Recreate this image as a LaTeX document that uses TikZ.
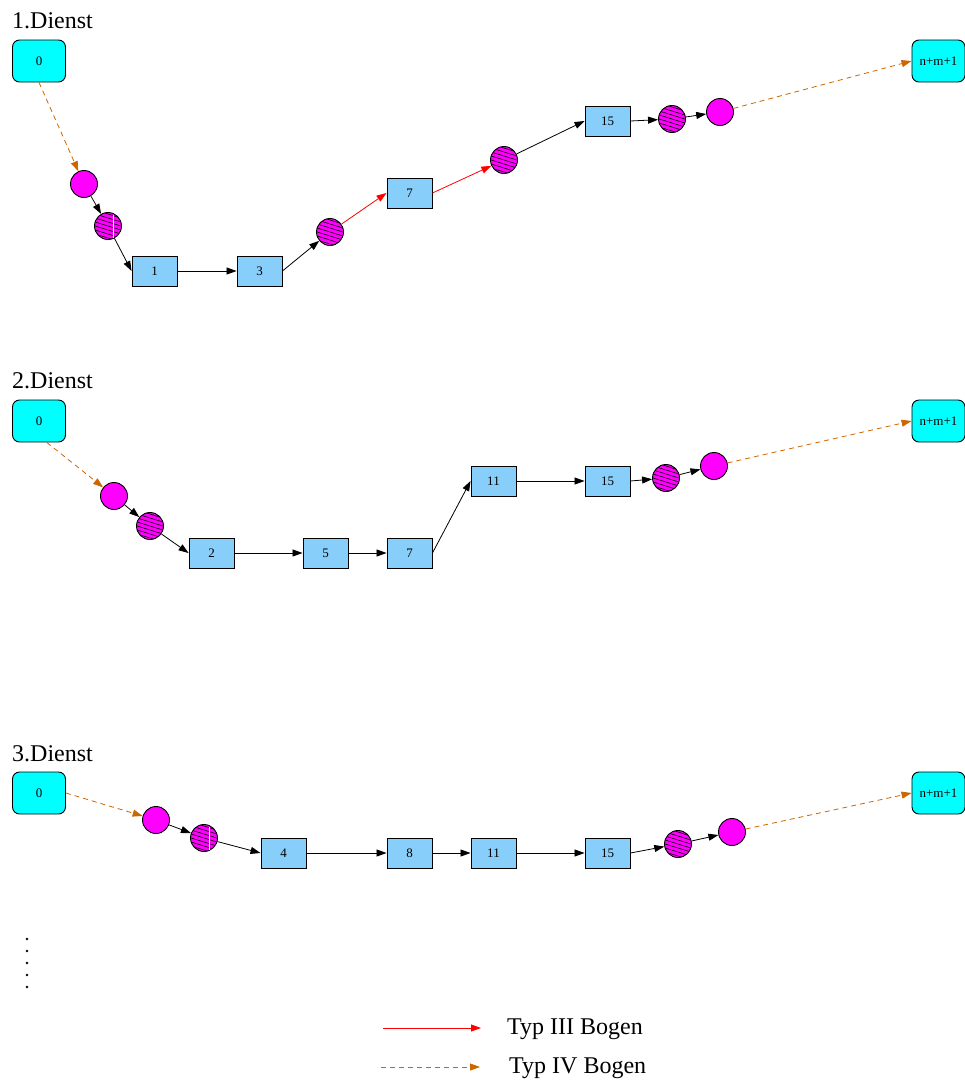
\documentclass[tikz,border=0pt]{standalone}
\usepackage{fontspec}
\setmainfont{Liberation Serif}
\usetikzlibrary{arrows.meta,calc}
\definecolor{boxblue}{RGB}{135,206,250}
\definecolor{termcyan}{RGB}{0,255,255}
\definecolor{nodemag}{RGB}{255,0,255}
\definecolor{bogenorange}{RGB}{204,102,0}
\tikzset{
  jobbox/.style={draw, line width=0.9pt, fill=boxblue, minimum width=45pt, minimum height=30pt,
    inner sep=0pt, font=\fontsize{13}{13}\selectfont},
  termbox/.style={draw, line width=0.9pt, fill=termcyan, rounded corners=7pt, minimum width=53pt,
    minimum height=42pt, inner sep=0pt, font=\fontsize{13}{13}\selectfont},
  plainc/.style={circle, draw, line width=0.9pt, fill=nodemag, minimum size=27pt, inner sep=0pt},
  hatchc/.style={plainc, path picture={
      \foreach \k in {-28,-24,...,28}{
        \draw[line width=0.6pt] ($(path picture bounding box.center)+(-16,\k-5)$) --
                                ($(path picture bounding box.center)+(16,\k+5)$);
      }}},
  edgearr/.style={line width=0.8pt, -{Triangle[length=10pt,width=7pt]}},
  typthree/.style={edgearr, red},
  typfour/.style={edgearr, bogenorange, dash pattern=on 5pt off 4pt},
  titletxt/.style={anchor=base west, inner sep=0pt, font=\fontsize{24}{24}\selectfont},
  whitecut/.style={white, line width=1pt},
  dotmark/.style={circle, fill=black, inner sep=0pt, minimum size=2.6pt},
}
\begin{document}
\begin{tikzpicture}[x=1pt,y=-1pt]
\useasboundingbox (0,0) rectangle (965,1084);

% ---------- 1. Dienst ----------
\node[titletxt] (t1) at (12,28) {1.Dienst};
\node[termbox] (a0) at (39,61) {0};
\node[plainc] (a1) at (84,184) {};
\node[hatchc] (a2) at (108,226) {};
\draw[whitecut] (113,214.5) -- (113,237.5);
\node[jobbox] (a3) at (154.5,271) {1};
\node[jobbox] (a4) at (259.5,271) {3};
\node[hatchc] (a5) at (330,232) {};
\node[jobbox] (a6) at (409.5,193) {7};
\node[hatchc] (a7) at (504,160) {};
\node[jobbox] (a8) at (607.5,121) {15};
\node[hatchc] (a9) at (672,119) {};
\node[plainc] (a10) at (720,112) {};
\node[termbox] (a11) at (938.5,61) {n+m+1};

\draw[typfour] (a0.south) -- (a1);
\draw[edgearr] (a1) -- (a2);
\draw[edgearr] (a2) -- (a3.west);
\draw[edgearr] (a3.east) -- (a4.west);
\draw[edgearr] (a4.east) -- (a5);
\draw[typthree] (a5) -- (a6.west);
\draw[typthree] (a6.east) -- (a7);
\draw[edgearr] (a7) -- (a8.west);
\draw[edgearr] (a8.east) -- (a9);
\draw[edgearr] (a9) -- (a10);
\draw[typfour] (a10) -- (a11.west);

% ---------- 2. Dienst ----------
\node[titletxt] (t2) at (12,388) {2.Dienst};
\node[termbox] (b0) at (39,421) {0};
\node[plainc] (b1) at (114,496) {};
\node[hatchc] (b2) at (150,526) {};
\node[jobbox] (b3) at (211.5,553) {2};
\node[jobbox] (b4) at (325.5,553) {5};
\node[jobbox] (b5) at (409.5,553) {7};
\node[jobbox] (b6) at (493.5,481) {11};
\node[jobbox] (b7) at (607.5,481) {15};
\node[hatchc] (b8) at (666,478) {};
\node[plainc] (b9) at (714,466) {};
\node[termbox] (b10) at (938.5,421) {n+m+1};

\draw[typfour] (b0.-70) -- (b1);
\draw[edgearr] (b1) -- (b2);
\draw[edgearr] (b2) -- (b3.west);
\draw[edgearr] (b3.east) -- (b4.west);
\draw[edgearr] (b4.east) -- (b5.west);
\draw[edgearr] (b5.east) -- (b6.west);
\draw[edgearr] (b6.east) -- (b7.west);
\draw[edgearr] (b7.east) -- (b8);
\draw[edgearr] (b8) -- (b9);
\draw[typfour] (b9) -- (b10.west);

% ---------- 3. Dienst ----------
\node[titletxt] (t3) at (12,761) {3.Dienst};
\node[termbox] (c0) at (39,793) {0};
\node[plainc] (c1) at (156,820) {};
\node[hatchc] (c2) at (204,838) {};
\draw[whitecut] (209,826.5) -- (209,849.5);
\node[jobbox] (c3) at (283.5,853) {4};
\node[jobbox] (c4) at (409.5,853) {8};
\node[jobbox] (c5) at (493.5,853) {11};
\node[jobbox] (c6) at (607.5,853) {15};
\node[hatchc] (c7) at (678,844) {};
\node[plainc] (c8) at (732,832) {};
\node[termbox] (c9) at (938.5,793) {n+m+1};

\draw[typfour] (c0.east) -- (c1);
\draw[edgearr] (c1) -- (c2);
\draw[edgearr] (c2) -- (c3.west);
\draw[edgearr] (c3.east) -- (c4.west);
\draw[edgearr] (c4.east) -- (c5.west);
\draw[edgearr] (c5.east) -- (c6.west);
\draw[edgearr] (c6.east) -- (c7);
\draw[edgearr] (c7) -- (c8);
\draw[typfour] (c8) -- (c9.west);

% ---------- vertical dots ----------
\foreach \i/\yy in {1/939,2/951,3/963,4/975,5/987}{
  \node[dotmark] (d\i) at (27,\yy) {};
}

% ---------- legend ----------
\coordinate (l3a) at (383,1028);
\coordinate (l3b) at (481,1028);
\coordinate (l4a) at (381,1067);
\coordinate (l4b) at (480,1067);
\draw[typthree] (l3a) -- (l3b);
\draw[typfour] (l4a) -- (l4b);
\node[titletxt] (lt3) at (507,1034) {Typ III Bogen};
\node[titletxt] (lt4) at (509,1073) {Typ IV Bogen};
\end{tikzpicture}
\end{document}
